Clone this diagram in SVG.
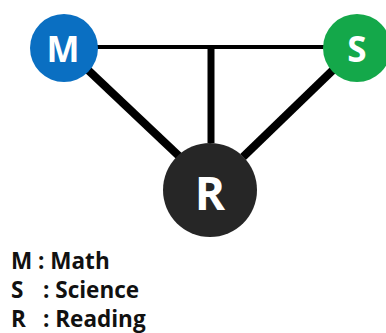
<svg xmlns="http://www.w3.org/2000/svg" width="386" height="333" viewBox="0 0 386 333">
<style>
.lbl{font-family:"Open Sans","Liberation Sans",sans-serif;font-weight:bold;fill:#fff;text-anchor:middle}
.leg{font-family:"Open Sans","Liberation Sans",sans-serif;font-weight:bold;font-size:22.5px;fill:#111}
</style>
<rect width="386" height="333" fill="#fff"/>
<g id="connectors" stroke="#000" fill="none">
<line x1="96" y1="47" x2="326" y2="47" stroke-width="4"/>
<line x1="211" y1="45" x2="211" y2="143" stroke-width="7"/>
<line x1="88" y1="70" x2="180" y2="157" stroke-width="8"/>
<line x1="333" y1="70" x2="243" y2="157" stroke-width="8"/>
</g>
<g id="node-M">
<circle cx="64" cy="48" r="34" fill="#0a6fc2"/>
<text class="lbl" x="63" y="62" font-size="35">M</text>
</g>
<g id="node-S">
<circle cx="357" cy="48" r="34" fill="#14a84a"/>
<text class="lbl" x="357" y="62" font-size="35">S</text>
</g>
<g id="node-R">
<circle cx="210" cy="190" r="47" fill="#262626"/>
<text class="lbl" x="210" y="210" font-size="46">R</text>
</g>
<g id="legend">
<text class="leg" x="11" y="269">M : Math</text>
<text class="leg" y="298"><tspan x="11">S</tspan><tspan x="43">: Science</tspan></text>
<text class="leg" y="327"><tspan x="11">R</tspan><tspan x="43">: Reading</tspan></text>
</g>
</svg>
